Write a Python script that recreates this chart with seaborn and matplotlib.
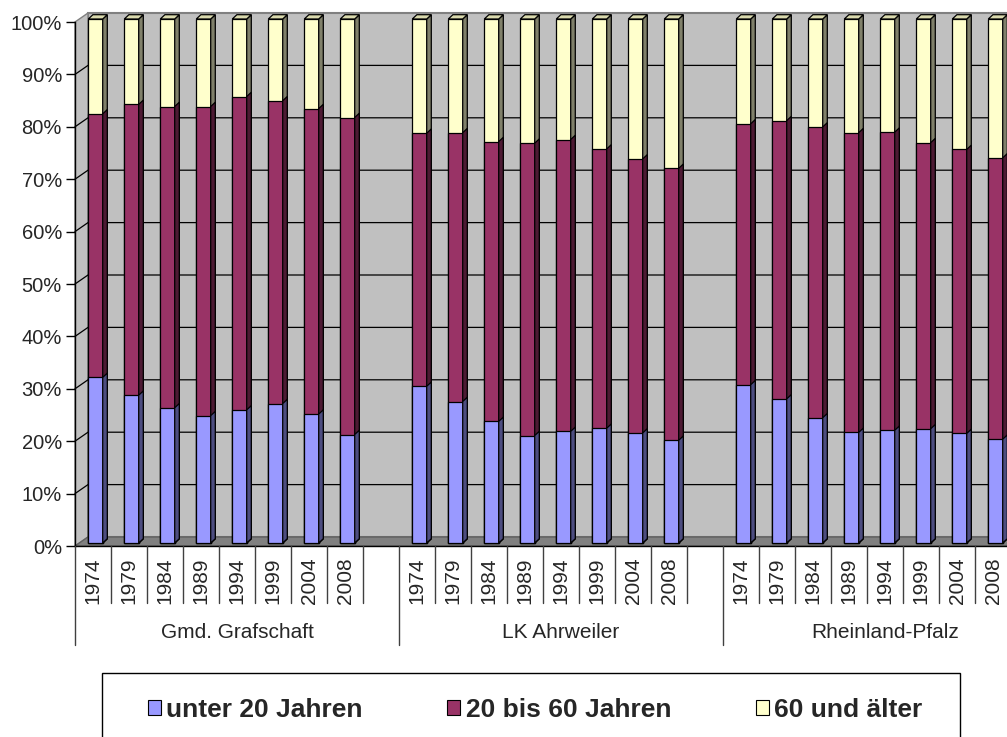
import numpy as np
import pandas as pd
import seaborn as sns
import matplotlib.pyplot as plt
from matplotlib.patches import Polygon, Rectangle, Patch

regions = ['Gmd. Grafschaft', 'LK Ahrweiler', 'Rheinland-Pfalz']
years = ['1974', '1979', '1984', '1989', '1994', '1999', '2004', '2008']
series = ['unter 20 Jahren', '20 bis 60 Jahren', '60 und älter']

# Anteile in % (je Region 8 Jahre)
unter20 = [31.6, 28.2, 25.8, 24.3, 25.4, 26.6, 24.6, 20.7,
           29.9, 27.0, 23.2, 20.5, 21.3, 21.9, 21.0, 19.6,
           30.2, 27.5, 23.9, 21.1, 21.5, 21.8, 20.9, 19.8]
mitte = [50.3, 55.5, 57.5, 59.0, 59.8, 57.8, 58.3, 60.5,
         48.3, 51.3, 53.4, 55.8, 55.7, 53.3, 52.3, 51.9,
         49.8, 53.1, 55.5, 57.2, 56.9, 54.6, 54.2, 53.7]
ueber60 = [18.1, 16.3, 16.7, 16.7, 14.8, 15.6, 17.1, 18.8,
           21.8, 21.7, 23.4, 23.7, 23.0, 24.8, 26.7, 28.5,
           20.0, 19.4, 20.6, 21.7, 21.6, 23.6, 24.9, 26.5]

front_cols = ['#9999FF', '#993366', '#FFFFCC']
side_cols = ['#4D4D80', '#4D1A33', '#80806A']
top_col = '#DADAAE'

rows = []
for g, reg in enumerate(regions):
    for k, yr in enumerate(years):
        i = g * 8 + k
        rows.append(dict(region=reg, year=yr, slot=g * 9 + k,
                         u=unter20[i], m=mitte[i], o=ueber60[i]))
df = pd.DataFrame(rows)
tot = df.u + df.m + df.o
df['c1'] = df.u / tot
df['c2'] = (df.u + df.m) / tot
df['c3'] = (df.u + df.m + df.o) / tot
df['pos'] = df.slot + 0.45

sns.set_style('white')
plt.rcParams['font.family'] = ['Liberation Sans', 'DejaVu Sans']

W, H = 1007, 737
fig = plt.figure(figsize=(W / 100, H / 100), dpi=100)
ax = fig.add_axes([75 / W, (H - 546) / H, 972 / W, 524 / H])
ax.set_facecolor('none')

# pixel -> data
px_x = 1 / 36
px_y = 1 / 524
dxw, dyw = 13 * px_x, 9 * px_y       # Tiefe der Wände
sx, sy = 4.3 * px_x, 3 * px_y        # Versatz der Säulen-Vorderseite
ddx, ddy = 4.6 * px_x, 4.3 * px_y    # Säulentiefe

# Rückwand, Seitenwand, Boden
ax.add_patch(Rectangle((dxw, dyw), 27, 1, fc='#C0C0C0', ec='#808080', lw=1.5,
                       zorder=0, clip_on=False))
ax.add_patch(Polygon([(0, 0), (0, 1), (dxw, 1 + dyw), (dxw, dyw)],
                     fc='#C0C0C0', ec='#808080', lw=1, zorder=0, clip_on=False))
ax.add_patch(Polygon([(0, 0), (27, 0), (27 + dxw, dyw), (dxw, dyw)],
                     fc='#808080', ec='#606060', lw=1, zorder=0.6, clip_on=False))
for y in np.arange(0.1, 0.95, 0.1):
    ax.plot([0, dxw, 27 + dxw], [y, y + dyw, y + dyw], color='black',
            lw=0.9, zorder=0.5, clip_on=False)

# gestapelte Säulen (kumulativ übereinander)
layers = [('c3', 2), ('c2', 1), ('c1', 0)]
for li, (col, s) in enumerate(layers):
    n0 = len(ax.patches)
    sns.barplot(data=df, x='pos', y=col, native_scale=True, width=0.4,
                color=front_cols[s], saturation=1, edgecolor='black',
                linewidth=0.9, errorbar=None, ax=ax)
    for p in ax.patches[n0:]:
        p.set_x(p.get_x() + sx)
        p.set_y(p.get_y() + sy)
        p.set_zorder(2 + li)
        p.set_clip_on(False)
        x0 = p.get_x()
        x1 = x0 + p.get_width()
        y0 = p.get_y()
        y1 = y0 + p.get_height()
        ax.add_patch(Polygon([(x1, y0), (x1 + ddx, y0 + ddy), (x1 + ddx, y1 + ddy), (x1, y1)],
                             fc=side_cols[s], ec='black', lw=0.9, zorder=2 + li, clip_on=False))
        if s == 2:
            ax.add_patch(Polygon([(x0, y1), (x0 + ddx, y1 + ddy), (x1 + ddx, y1 + ddy), (x1, y1)],
                                 fc=top_col, ec='black', lw=0.9, zorder=2 + li, clip_on=False))

ax.set_xlim(0, 27)
ax.set_ylim(0, 1)
ax.set_xlabel('')
ax.set_ylabel('')

ax.set_yticks(np.arange(0, 1.01, 0.1))
ax.set_yticklabels([f'{int(round(v * 100))}%' for v in np.arange(0, 1.01, 0.1)])
ax.tick_params(axis='y', length=6.5, width=1, pad=2.9, labelsize=14.5, color='black', left=True)
ax.set_xticks(df.slot + 0.5)
ax.set_xticklabels(df.year, rotation=90, fontsize=15)
ax.tick_params(axis='x', length=0, pad=8)
for side in ['top', 'right']:
    ax.spines[side].set_visible(False)
for side in ['left', 'bottom']:
    ax.spines[side].set_color('black')
    ax.spines[side].set_linewidth(1)
    ax.spines[side].set_zorder(1)

# Kategorie-Trennlinien und Gruppenbeschriftung
for b in range(28):
    ylow = (546 - 645) * px_y if b % 9 == 0 else (546 - 603) * px_y
    ax.plot([b, b], [0, ylow], color='#404040', lw=1, clip_on=False)
for g, reg in enumerate(regions):
    ax.text(g * 9 + 4.5, (546 - 632) * px_y, reg, ha='center', va='center', fontsize=15)

# Legende
fig.add_artist(Rectangle((101.7 / W, -0.05), (960 - 101.7) / W, 0.05 + (H - 672.7) / H,
                         transform=fig.transFigure, fc='white', ec='black', lw=1))
handles = [Patch(fc=c, ec='black', lw=0.8) for c in front_cols]
fig.legend(handles, series, ncol=3, loc='center', bbox_to_anchor=(535 / W, (H - 710) / H),
           frameon=False, prop={'weight': 'bold', 'size': 19}, handlelength=0.5,
           handleheight=0.5, handletextpad=0.2, columnspacing=3.2)

fig.savefig('out.png', dpi=100)
